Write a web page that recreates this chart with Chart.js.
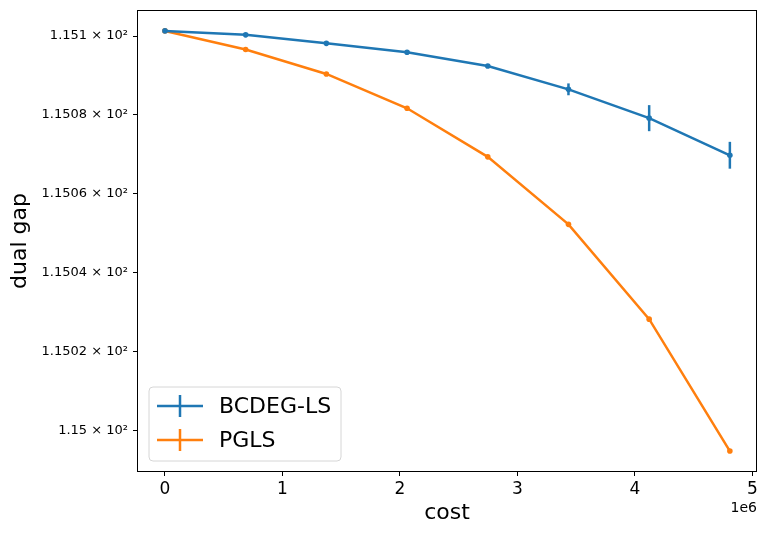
<!DOCTYPE html>
<html>
<head>
<meta charset="utf-8">
<script src="https://cdn.jsdelivr.net/npm/chart.js@4.4.1/dist/chart.umd.min.js"></script>
<style>
  html, body { margin: 0; padding: 0; background: #fff; }
  canvas { display: block; }
</style>
</head>
<body>
<canvas id="chart" width="767" height="535"></canvas>
<script>
// values
const costs = [0, 0.687e6, 1.374e6, 2.061e6, 2.748e6, 3.435e6, 4.122e6, 4.809e6];
const bcdegGap = [115.1013, 115.1003, 115.09815, 115.0959, 115.0924, 115.0865, 115.0792, 115.0698];
const bcdegErr = [0, 0, 0, 0, 0.0003, 0.0015, 0.0033, 0.0034];
const pglsGap = [115.1013, 115.0966, 115.0904, 115.0817, 115.0694, 115.0523, 115.0283, 114.9949];
const pglsErr = [0, 0, 0, 0, 0, 0, 0, 0];

const xTicks = [0, 1e6, 2e6, 3e6, 4e6, 5e6];
const xTickLabels = ['0', '1', '2', '3', '4', '5'];
const yTicks = [115.0, 115.02, 115.04, 115.06, 115.08, 115.1];
const yTickLabels = ['1.15 × 10²', '1.1502 × 10²', '1.1504 × 10²', '1.1506 × 10²', '1.1508 × 10²', '1.151 × 10²'];

const blue = '#1f77b4';
const orange = '#ff7f0e';
const font = 'DejaVu Sans';

const toPoints = (xs, ys) => xs.map((x, i) => ({ x: x, y: ys[i] }));

// vertical error bars, drawn through the scales
const errorBars = {
    id: 'errorBars',
    afterDatasetsDraw(chart) {
        const ctx = chart.ctx;
        const xs = chart.scales.x, ys = chart.scales.y;
        chart.data.datasets.forEach(ds => {
            ctx.save();
            ctx.strokeStyle = ds.borderColor;
            ctx.lineWidth = 2.5;
            ds.data.forEach((p, i) => {
                const e = ds.errors[i];
                if (!e) return;
                const px = xs.getPixelForValue(p.x);
                ctx.beginPath();
                ctx.moveTo(px, ys.getPixelForValue(p.y - e));
                ctx.lineTo(px, ys.getPixelForValue(p.y + e));
                ctx.stroke();
            });
            ctx.restore();
        });
    }
};

// frame, legend box and offset text
const decorations = {
    id: 'decorations',
    afterDraw(chart) {
        const ctx = chart.ctx;
        const a = chart.chartArea;
        ctx.save();
        ctx.strokeStyle = '#000';
        ctx.lineWidth = 1;
        ctx.strokeRect(a.left + 0.5, a.top + 0.5, a.right - a.left - 1, a.bottom - a.top - 1);

        // legend
        const bx = a.left + 12, by = a.bottom - 85, bw = 192, bh = 74, r = 4;
        ctx.beginPath();
        ctx.moveTo(bx + r, by);
        ctx.arcTo(bx + bw, by, bx + bw, by + bh, r);
        ctx.arcTo(bx + bw, by + bh, bx, by + bh, r);
        ctx.arcTo(bx, by + bh, bx, by, r);
        ctx.arcTo(bx, by, bx + bw, by, r);
        ctx.closePath();
        ctx.fillStyle = 'rgba(255,255,255,0.8)';
        ctx.fill();
        ctx.strokeStyle = '#d6d6d6';
        ctx.stroke();

        ctx.font = '22px "' + font + '"';
        ctx.textBaseline = 'middle';
        ctx.fillStyle = '#000';
        chart.data.datasets.forEach((ds, i) => {
            const cy = by + 19 + i * 34;
            ctx.strokeStyle = ds.borderColor;
            ctx.lineWidth = 2.5;
            ctx.beginPath();
            ctx.moveTo(bx + 8, cy);
            ctx.lineTo(bx + 54, cy);
            ctx.moveTo(bx + 31, cy - 11);
            ctx.lineTo(bx + 31, cy + 11);
            ctx.stroke();
            ctx.fillText(ds.label, bx + 70, cy + 1);
        });

        ctx.font = '14px "' + font + '"';
        ctx.textAlign = 'right';
        ctx.fillText('1e6', a.right, a.bottom + 36);
        ctx.restore();
    }
};

const ctx = document.getElementById('chart').getContext('2d');
const myChart = new Chart(ctx, {
    type: 'line',
    data: {
        datasets: [{
            label: 'BCDEG-LS',
            data: toPoints(costs, bcdegGap),
            errors: bcdegErr,
            borderColor: blue,
            backgroundColor: blue,
            borderWidth: 2.5,
            pointRadius: 2.8,
            pointBorderWidth: 0,
            tension: 0
        }, {
            label: 'PGLS',
            data: toPoints(costs, pglsGap),
            errors: pglsErr,
            borderColor: orange,
            backgroundColor: orange,
            borderWidth: 2.5,
            pointRadius: 2.8,
            pointBorderWidth: 0,
            tension: 0
        }]
    },
    options: {
        responsive: false,
        animation: false,
        layout: { padding: { top: 10, right: 10, left: 0, bottom: 0 } },
        plugins: { legend: { display: false }, tooltip: { enabled: false } },
        scales: {
            x: {
                type: 'linear',
                min: -0.238e6,
                max: 5.04e6,
                afterBuildTicks: scale => { scale.ticks = xTicks.map(v => ({ value: v })); },
                afterFit: scale => {
                    scale.height = 63;
                    scale.paddingLeft = 0;
                    scale.paddingRight = 0;
                },
                grid: { drawOnChartArea: false, drawTicks: true, tickLength: 4, color: '#000' },
                border: { display: false },
                ticks: {
                    color: '#000',
                    padding: 3,
                    maxRotation: 0,
                    font: { family: font, size: 17 },
                    callback: (v) => xTickLabels[xTicks.indexOf(v)]
                },
                title: {
                    display: true,
                    text: 'cost',
                    color: '#000',
                    font: { family: font, size: 22 },
                    padding: { top: 0, bottom: 9 }
                }
            },
            y: {
                type: 'logarithmic',
                min: 114.9896,
                max: 115.1066,
                afterBuildTicks: scale => { scale.ticks = yTicks.map(v => ({ value: v })); },
                afterFit: scale => {
                    scale.width = 137;
                    scale.paddingTop = 0;
                    scale.paddingBottom = 0;
                },
                grid: { drawOnChartArea: false, drawTicks: true, tickLength: 4, color: '#000' },
                border: { display: false },
                ticks: {
                    color: '#000',
                    padding: 5,
                    font: { family: font, size: 13 },
                    callback: (v) => {
                        const i = yTicks.findIndex(t => Math.abs(t - v) < 1e-6);
                        return i >= 0 ? yTickLabels[i] : '';
                    }
                },
                title: {
                    display: true,
                    text: 'dual gap',
                    color: '#000',
                    font: { family: font, size: 22 },
                    padding: { top: 7, bottom: 0 }
                }
            }
        }
    },
    plugins: [errorBars, decorations]
});
</script>
</body>
</html>
